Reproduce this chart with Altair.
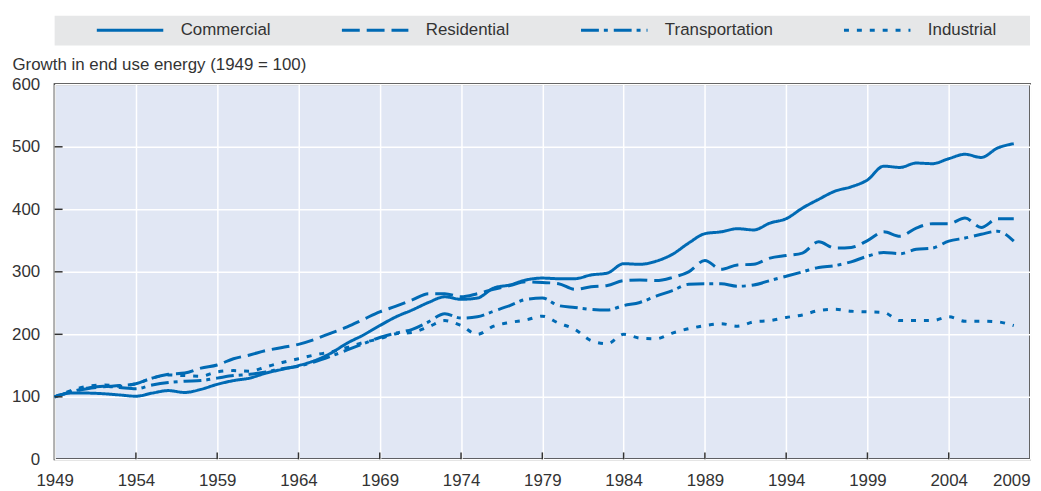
import altair as alt
import pandas as pd

years = list(range(1949, 2009))
series_names = ["Commercial", "Residential", "Transportation", "Industrial"]

commercial = [100, 106, 106, 105, 103, 101, 106, 110, 107, 112,
              120, 126, 130, 138, 144, 150, 158, 170, 186, 199,
              214, 228, 239, 251, 260, 256, 258, 274, 279, 287,
              290, 289, 289, 295, 298, 313, 312, 317, 328, 346,
              361, 364, 369, 367, 378, 385, 402, 416, 429, 436,
              447, 469, 467, 474, 473, 481, 488, 483, 498, 505]
residential = [100, 108, 113, 116, 118, 121, 130, 136, 138, 146,
               151, 161, 167, 174, 179, 184, 192, 202, 212, 224,
               236, 245, 255, 265, 265, 260, 265, 272, 278, 284,
               283, 281, 272, 276, 278, 286, 287, 286, 291, 300,
               318, 304, 311, 312, 322, 326, 330, 348, 338, 339,
               350, 364, 357, 370, 377, 377, 386, 371, 385, 385]
transportation = [100, 108, 114, 117, 115, 113, 119, 123, 125, 126,
                  130, 134, 136, 140, 145, 149, 156, 165, 175, 185,
                  195, 202, 208, 220, 233, 226, 228, 237, 246, 256,
                  258, 246, 243, 240, 239, 246, 251, 261, 270, 280,
                  281, 281, 277, 279, 286, 293, 300, 307, 310, 316,
                  325, 331, 329, 336, 338, 349, 354, 360, 365, 349]
industrial = [100, 110, 117, 119, 117, 121, 130, 135, 134, 133,
              140, 142, 141, 148, 155, 161, 167, 172, 179, 187,
              193, 201, 203, 212, 222, 214, 200, 213, 219, 223,
              229, 218, 208, 190, 185, 200, 194, 193, 202, 209,
              214, 217, 213, 220, 222, 227, 231, 238, 240, 237,
              236, 235, 222, 222, 222, 228, 221, 221, 220, 214]

x_ticks = [1949, 1954, 1959, 1964, 1969, 1974, 1979, 1984, 1989, 1994, 1999, 2004, 2009]
y_ticks = [0, 100, 200, 300, 400, 500, 600]
dashes = [[1, 0], [18, 7], [18, 5, 4, 6], [5, 8]]

rows = []
for name, vals in zip(series_names, [commercial, residential, transportation, industrial]):
    for yr, v in zip(years, vals):
        rows.append({"year": yr, "value": v, "series": name})
df = pd.DataFrame(rows)

BLUE = "#006ab4"
FONT = "Liberation Sans"
TXT = "#333333"
FS = 17

x_scale = alt.Scale(domain=[1949, 2009], nice=False, zero=False)
y_scale = alt.Scale(domain=[0, 600], nice=False)

x_axis = alt.Axis(values=x_ticks, format="d", grid=True, gridColor="white", gridWidth=1.5,
                  ticks=False, domain=False, labelPadding=26,
                  labelBaseline="alphabetic",
                  labelAlign={"condition": {"test": "datum.value == 2009", "value": "right"},
                              "value": "center"},
                  labelFont=FONT, labelFontSize=FS, labelColor=TXT, title=None)
y_axis = alt.Axis(values=y_ticks, grid=True, gridColor="white", gridWidth=1.5,
                  ticks=False, domain=False, labelPadding=15,
                  labelFont=FONT, labelFontSize=FS, labelColor=TXT,
                  title="Growth in end use energy (1949 = 100)",
                  titleAngle=0, titleAlign="left", titleBaseline="alphabetic",
                  titleX=-43, titleY=-15, titleFont=FONT, titleFontSize=FS,
                  titleFontWeight="normal", titleColor=TXT)

box = alt.Chart(alt.Data(values=[{"k": 1}])).mark_rect(color="#e6e7e8").encode(
    x=alt.value(0), x2=alt.value(983), y=alt.value(-69), y2=alt.value(-39)
)

lines = alt.Chart(df).mark_line(strokeWidth=3, interpolate="monotone", color=BLUE).encode(
    x=alt.X("year:Q", scale=x_scale, axis=x_axis),
    y=alt.Y("value:Q", scale=y_scale, axis=y_axis),
    strokeDash=alt.StrokeDash("series:N", sort=series_names,
                              scale=alt.Scale(domain=series_names, range=dashes),
                              legend=alt.Legend(orient="none", legendX=41, legendY=-89.5,
                                                direction="horizontal", title=None,
                                                symbolType="stroke", symbolSize=4489,
                                                symbolStrokeWidth=3, symbolStrokeColor=BLUE,
                                                labelFont=FONT, labelFontSize=FS, labelColor=TXT,
                                                labelOffset=16, columnPadding=65, padding=0,
                                                zindex=1)),
)

yt = alt.Chart(pd.DataFrame({"year": [1949] * 5, "value": y_ticks[1:-1]})).mark_rule(
    color="#333333", strokeWidth=1.5).encode(
    y=alt.Y("value:Q", scale=y_scale, axis=y_axis), x=alt.value(0), x2=alt.value(8)
)
xt = alt.Chart(pd.DataFrame({"year": x_ticks[1:-1]})).mark_rule(
    color="#333333", strokeWidth=1.5).encode(
    x=alt.X("year:Q", scale=x_scale, axis=x_axis), y=alt.value(378), y2=alt.value(371)
)

chart = alt.layer(box, lines, yt, xt).properties(
    width=983, height=378,
    autosize=alt.AutoSizeParams(type="none"),
    padding={"left": 47, "top": 75, "right": 3, "bottom": 30},
).configure_view(
    fill="#e1e7f4", stroke="#333333", strokeWidth=2
)

chart.save("out.html", embed_options={"renderer": "svg", "actions": False})
